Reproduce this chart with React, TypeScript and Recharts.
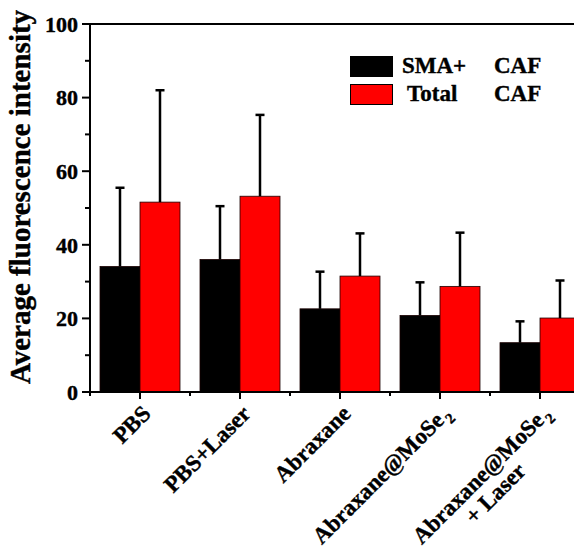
import React from 'react';
import { BarChart, Bar, XAxis, YAxis, ReferenceLine, Legend, Label } from 'recharts';

const categories = ['PBS', 'PBS+Laser', 'Abraxane', 'Abraxane@MoSe_2', 'Abraxane@MoSe_2|+ Laser'];
const smaValues = [34.1, 36.0, 22.6, 20.8, 13.4];
const smaErrors = [21.4, 14.5, 10.1, 9.0, 5.8];
const totalValues = [51.6, 53.2, 31.5, 28.7, 20.1];
const totalErrors = [30.4, 22.1, 11.6, 14.6, 10.2];
const yTicks = [0, 10, 20, 30, 40, 50, 60, 70, 80, 90, 100];
const seriesNames = ['SMA+ CAF', 'Total CAF'];
const yLabel = 'Average fluorescence intensity';

const data = categories.map((c, i) => ({
  category: c,
  sma: smaValues[i],
  smaErr: smaErrors[i],
  total: totalValues[i],
  totalErr: totalErrors[i],
}));

const FONT = '"Liberation Serif", "Times New Roman", serif';

function renderSub(text: string) {
  const parts = text.split('_');
  if (parts.length === 1) return text;
  return [
    parts[0],
    <tspan key="s" fontSize={15} dx={2} dy={6}>{parts[1]}</tspan>,
  ];
}

function XTick(props: any) {
  const { x, y, payload, width, visibleTicksCount, index } = props;
  const band = width / visibleTicksCount;
  const lines = String(payload.value).split('|');
  return (
    <g>
      <line x1={x} y1={y} x2={x} y2={y + 7} stroke="#000" strokeWidth={2} />
      <line x1={x - band / 2} y1={y} x2={x - band / 2} y2={y + 4} stroke="#000" strokeWidth={2} />
      {index === visibleTicksCount - 1 && (
        <line x1={x + band / 2} y1={y} x2={x + band / 2} y2={y + 4} stroke="#000" strokeWidth={2} />
      )}
      <g transform={`translate(${x + 12},${y + 23}) rotate(-45)`}>
        {lines.map((ln, i) => (
          <text
            key={i}
            x={i ? -58 : 0}
            y={i * 23}
            textAnchor="end"
            fontFamily={FONT}
            fontWeight="bold"
            fontSize={23}
            fill="#000"
            stroke="#000"
            strokeWidth={0.4}
          >
            {renderSub(ln)}
          </text>
        ))}
      </g>
    </g>
  );
}

function YTick(props: any) {
  const { x, y, payload } = props;
  const major = payload.value % 20 === 0;
  return (
    <g>
      <line x1={x - (major ? 8 : 5)} y1={y} x2={x} y2={y} stroke="#000" strokeWidth={2} />
      {major && (
        <text
          x={x - 12}
          y={y}
          dy="0.35em"
          textAnchor="end"
          fontFamily={FONT}
          fontWeight="bold"
          fontSize={22}
          fill="#000"
          stroke="#000"
          strokeWidth={0.4}
        >
          {payload.value}
        </text>
      )}
    </g>
  );
}

function renderYLabel(props: any) {
  const vb = props.viewBox;
  const cx = vb.x + 30;
  const cy = vb.y + vb.height / 2 - 11;
  return (
    <text
      x={cx}
      y={cy}
      transform={`rotate(-90, ${cx}, ${cy})`}
      textAnchor="middle"
      fontFamily={FONT}
      fontWeight="bold"
      fontSize={29}
      fill="#000"
      stroke="#000"
      strokeWidth={0.4}
    >
      {yLabel}
    </text>
  );
}

function makeShape(errKey: string, valKey: string) {
  return (p: any) => {
    const { x, y, width, height, fill, payload } = p;
    const val = payload[valKey];
    const err = payload[errKey];
    const errPx = val ? (err * height) / val : 0;
    const cx = x + width / 2;
    return (
      <g>
        <rect x={x} y={y} width={width} height={height} fill={fill} stroke="#1a0000" strokeWidth={0.8} />
        <line x1={cx} y1={y} x2={cx} y2={y - errPx} stroke="#000" strokeWidth={2.5} />
        <line x1={cx - 4.5} y1={y - errPx} x2={cx + 4.5} y2={y - errPx} stroke="#000" strokeWidth={2.5} />
      </g>
    );
  };
}

function renderLegend(props: any) {
  const { payload } = props;
  return (
    <div style={{ fontFamily: FONT, fontWeight: 'bold', fontSize: 23, color: '#000', WebkitTextStroke: '0.4px #000' }}>
      {payload.map((e: any, i: number) => {
        const [name, suffix] = String(e.value).split(' ');
        return (
          <div key={i} style={{ display: 'flex', alignItems: 'center', height: 28 }}>
            <span
              style={{
                display: 'inline-block',
                width: 43,
                height: 21,
                background: e.color,
                border: '1px solid #000',
                boxSizing: 'border-box',
                marginRight: 9,
              }}
            />
            <span style={{ display: 'inline-block', width: 92, paddingLeft: i ? 5 : 0, boxSizing: 'border-box' }}>{name}</span>
            <span>{suffix}</span>
          </div>
        );
      })}
    </div>
  );
}

export default function App() {
  return (
    <div style={{ margin: '-8px 0 0 -8px', width: 582, height: 550, overflow: 'hidden', position: 'relative', background: '#fff' }}>
      <BarChart
        width={600}
        height={550}
        data={data}
        margin={{ top: 24, right: 10, left: 0, bottom: 0 }}
        barCategoryGap="10%"
        barGap={0}
      >
        <XAxis
          dataKey="category"
          height={158}
          interval={0}
          tickLine={false}
          tickSize={0}
          tickMargin={0}
          axisLine={{ stroke: '#000', strokeWidth: 2 }}
          tick={<XTick />}
        />
        <YAxis
          width={90}
          domain={[0, 100]}
          ticks={yTicks}
          interval={0}
          tickLine={false}
          tickSize={0}
          tickMargin={0}
          axisLine={{ stroke: '#000', strokeWidth: 2 }}
          tick={<YTick />}
        >
          <Label content={renderYLabel} />
        </YAxis>
        <ReferenceLine y={100} stroke="#000" strokeWidth={2} />
        <Legend
          layout="vertical"
          align="center"
          verticalAlign="middle"
          wrapperStyle={{ left: 350, top: 52, width: 220 }}
          content={renderLegend}
        />
        <Bar dataKey="sma" name={seriesNames[0]} fill="#000000" isAnimationActive={false} shape={makeShape('smaErr', 'sma')} />
        <Bar dataKey="total" name={seriesNames[1]} fill="#ff0000" isAnimationActive={false} shape={makeShape('totalErr', 'total')} />
      </BarChart>
    </div>
  );
}
